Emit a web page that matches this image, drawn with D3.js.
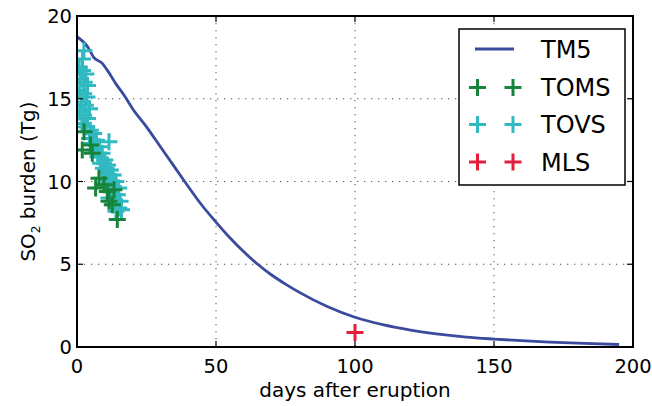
<!DOCTYPE html>
<html>
<head>
<meta charset="utf-8">
<script src="https://cdn.jsdelivr.net/npm/d3@7/dist/d3.min.js"></script>
<style>
  html, body { margin: 0; padding: 0; background: #fff; }
  svg { display: block; font-family: "DejaVu Sans", sans-serif; }
</style>
</head>
<body>
<svg id="chart" width="652" height="406"></svg>
<script>
// ---- data ----
const tm5Days   = [0, 4, 6, 9, 11, 14, 17, 20, 25, 30, 35, 40, 45, 50, 55, 60, 65, 70, 75, 80, 90, 100, 110, 120, 130, 140, 150, 160, 170, 180, 195];
const tm5Values = [18.75, 18.1, 17.5, 17.15, 16.7, 15.9, 15.2, 14.4, 13.3, 12.1, 10.9, 9.7, 8.55, 7.55, 6.6, 5.75, 5.0, 4.35, 3.8, 3.3, 2.45, 1.8, 1.35, 1.02, 0.78, 0.6, 0.48, 0.38, 0.3, 0.23, 0.15];

const tovsDays   = [2.5, 2.0, 0.8, 2.0, 3.2, 1.2, 2.6, 3.8, 1.0, 2.4, 3.6, 1.6, 3.0, 4.5, 1.0, 2.4, 3.8, 1.8, 3.2,
                    4.8, 6.0, 4.5, 7.0, 5.5, 8.0, 11.5, 6.5, 9.0, 7.5, 10.0, 8.5, 11.0, 9.5, 12.0, 10.5, 13.0, 9.0, 11.5, 14.0, 10.5, 13.0, 15.0, 12.0, 14.5, 11.5, 13.5, 15.5, 13.0, 15.0, 14.0, 16.0];
const tovsValues = [17.9, 17.4, 16.9, 16.7, 16.5, 16.2, 16.0, 15.8, 15.5, 15.3, 15.1, 14.8, 14.6, 14.4, 14.2, 14.0, 13.8, 13.5, 13.3,
                    13.1, 12.9, 12.6, 12.5, 12.3, 12.1, 12.4, 11.9, 11.7, 11.5, 11.3, 11.1, 11.0, 10.8, 10.7, 10.5, 10.4, 10.2, 10.1, 10.0, 9.8, 9.7, 9.6, 9.4, 9.2, 9.0, 8.9, 8.8, 8.6, 8.4, 8.2, 8.3];

const tomsDays   = [2.5, 1.9, 4.9, 5.5, 7.9, 6.7, 9.7, 10.9, 13.3, 11.5, 12.7, 14.5];
const tomsValues = [13.0, 11.9, 12.2, 11.7, 10.2, 9.6, 9.8, 9.4, 9.5, 8.8, 8.6, 7.7];

const mlsDays   = [100];
const mlsValues = [0.87];

const xTicks = [0, 50, 100, 150, 200];
const yTicks = [0, 5, 10, 15, 20];
const legendLabels = ["TM5", "TOMS", "TOVS", "MLS"];

// ---- styles ----
const colors = { TM5: "#3a4a9d", TOMS: "#17843c", TOVS: "#31b9c1", MLS: "#e3203c" };

const svg = d3.select("#chart");
const m = { left: 77, right: 633, top: 16, bottom: 347 };

const x = d3.scaleLinear().domain([0, 200]).range([m.left, m.right]);
const y = d3.scaleLinear().domain([0, 20]).range([m.bottom, m.top]);

svg.append("defs").append("clipPath").attr("id", "clip")
  .append("rect").attr("x", m.left).attr("y", m.top)
  .attr("width", m.right - m.left).attr("height", m.bottom - m.top);

// grid
const grid = svg.append("g");
grid.selectAll("line.gx").data(xTicks.slice(1, -1)).join("line")
  .attr("x1", d => x(d)).attr("x2", d => x(d)).attr("y1", m.top).attr("y2", m.bottom)
  .attr("stroke", "#555").attr("stroke-width", 1).attr("stroke-dasharray", "1.3,5.7");
grid.selectAll("line.gy").data(yTicks.slice(1, -1)).join("line")
  .attr("y1", d => y(d)).attr("y2", d => y(d)).attr("x1", m.left).attr("x2", m.right)
  .attr("stroke", "#555").attr("stroke-width", 1).attr("stroke-dasharray", "1.3,5.7");

const plot = svg.append("g").attr("clip-path", "url(#clip)");

// TM5 line
plot.append("path")
  .datum(tm5Days.map((d, i) => [d, tm5Values[i]]))
  .attr("fill", "none").attr("stroke", colors.TM5).attr("stroke-width", 2.8)
  .attr("d", d3.line().x(d => x(d[0])).y(d => y(d[1])).curve(d3.curveMonotoneX));

const plusPath = (s) => `M${-s},0H${s}M0,${-s}V${s}`;
function plusses(g, days, vals, color) {
  g.selectAll(null).data(days.map((d, i) => [d, vals[i]])).join("path")
    .attr("transform", d => `translate(${x(d[0])},${y(d[1])})`)
    .attr("d", plusPath(8.5))
    .attr("fill", "none").attr("stroke", color).attr("stroke-width", 3);
}
plusses(plot, tovsDays, tovsValues, colors.TOVS);
plusses(plot, tomsDays, tomsValues, colors.TOMS);
plusses(plot, mlsDays, mlsValues, colors.MLS);

// frame
svg.append("rect").attr("x", m.left).attr("y", m.top)
  .attr("width", m.right - m.left).attr("height", m.bottom - m.top)
  .attr("fill", "none").attr("stroke", "#000").attr("stroke-width", 2);

// ticks (inward, all sides)
const tl = 6;
const tk = svg.append("g").attr("stroke", "#000").attr("stroke-width", 1.2);
xTicks.forEach(t => {
  tk.append("line").attr("x1", x(t)).attr("x2", x(t)).attr("y1", m.bottom).attr("y2", m.bottom - tl);
  tk.append("line").attr("x1", x(t)).attr("x2", x(t)).attr("y1", m.top).attr("y2", m.top + tl);
});
yTicks.forEach(t => {
  tk.append("line").attr("y1", y(t)).attr("y2", y(t)).attr("x1", m.left).attr("x2", m.left + tl);
  tk.append("line").attr("y1", y(t)).attr("y2", y(t)).attr("x1", m.right).attr("x2", m.right - tl);
});

// tick labels
svg.append("g").selectAll("text").data(xTicks).join("text")
  .attr("x", d => x(d)).attr("y", 373).attr("text-anchor", "middle")
  .attr("font-size", 19.5).attr("fill", "#000").text(d => d);
svg.append("g").selectAll("text").data(yTicks).join("text")
  .attr("x", 72).attr("y", d => y(d)).attr("dy", "0.36em").attr("text-anchor", "end")
  .attr("font-size", 19.5).attr("fill", "#000").text(d => d);

// axis labels
svg.append("text").attr("x", (m.left + m.right) / 2).attr("y", 397)
  .attr("text-anchor", "middle").attr("font-size", 20).text("days after eruption");
const yl = svg.append("text").attr("transform", `translate(35,${(m.top + m.bottom) / 2}) rotate(-90)`)
  .attr("text-anchor", "middle").attr("font-size", 20);
yl.append("tspan").text("SO");
yl.append("tspan").attr("font-size", 12).attr("dy", 5).text("2");
yl.append("tspan").attr("dy", -5).text(" burden (Tg)");

// legend
const lg = svg.append("g");
lg.append("rect").attr("x", 459).attr("y", 29).attr("width", 166).attr("height", 156)
  .attr("fill", "#fff").attr("stroke", "#000").attr("stroke-width", 1.5);
const rowY = [49, 87.5, 124.5, 162];
legendLabels.forEach((lab, i) => {
  const yy = rowY[i];
  if (lab === "TM5") {
    lg.append("line").attr("x1", 475).attr("x2", 514).attr("y1", yy).attr("y2", yy)
      .attr("stroke", colors.TM5).attr("stroke-width", 2.8);
  } else {
    [477.5, 513].forEach(px => {
      lg.append("path").attr("transform", `translate(${px},${yy})`).attr("d", plusPath(8.5))
        .attr("fill", "none").attr("stroke", colors[lab]).attr("stroke-width", 3);
    });
  }
  lg.append("text").attr("x", 541).attr("y", yy).attr("dy", "0.36em")
    .attr("font-size", 24).attr("fill", "#000").text(lab);
});
</script>
</body>
</html>
